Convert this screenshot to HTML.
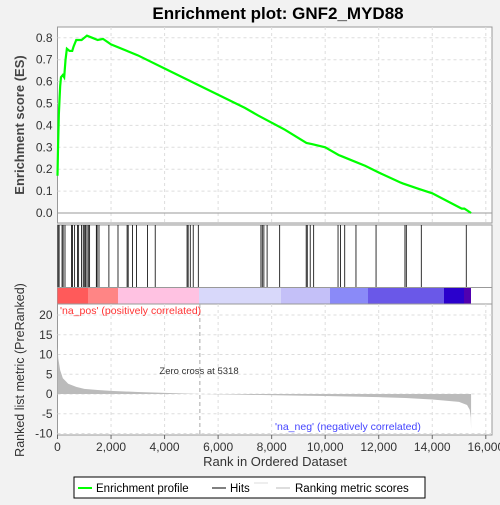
<!DOCTYPE html>
<html><head><meta charset="utf-8"><style>
body{margin:0;background:#f2f2f2;font-family:"Liberation Sans",sans-serif}
svg text{font-family:"Liberation Sans","DejaVu Sans",sans-serif}
</style></head><body>
<svg id="c" width="500" height="500" xmlns="http://www.w3.org/2000/svg">
<text x="278" y="19" text-anchor="middle" font-size="17" font-weight="bold">Enrichment plot: GNF2_MYD88</text>
<g id="topPanel"></g>
<g id="hitsPanel"></g>
<g id="botPanel"></g>
<g>
<rect x="74" y="477" width="351" height="21" fill="#fff" stroke="#000"/>
<line x1="78" y1="488" x2="92" y2="488" stroke="#00ff00" stroke-width="2"/>
<text x="96" y="492" font-size="11.5">Enrichment profile</text>
<line x1="212" y1="488" x2="226" y2="488" stroke="#000"/>
<text x="230" y="492" font-size="11.5">Hits</text>
<line x1="254" y1="483" x2="268" y2="483" stroke="#ddd"/>
<line x1="276" y1="488" x2="290" y2="488" stroke="#bbb"/>
<text x="295" y="492" font-size="11.5">Ranking metric scores</text>
</g>
</svg>
<script>
const esRanks=[0,20,50,80,100,130,200,250,300,350,450,550,600,700,800,900,1000,1100,1300,1500,1700,2000,3000,4000,5000,6000,7000,7500,8500,9300,9500,10000,10500,10600,11000,11500,12000,12800,12900,13500,14000,15100,15200,15450];
const esValues=[0.17,0.3,0.45,0.53,0.58,0.62,0.63,0.62,0.70,0.75,0.74,0.74,0.76,0.79,0.79,0.79,0.80,0.81,0.80,0.79,0.795,0.77,0.72,0.66,0.60,0.54,0.48,0.445,0.38,0.32,0.315,0.30,0.265,0.26,0.24,0.215,0.185,0.14,0.135,0.11,0.09,0.02,0.02,0.0];
const hitRanks=[20,60,170,210,280,520,560,640,750,790,900,960,1000,1050,1100,1150,1200,1450,1480,1550,1920,2260,2600,2640,2800,2950,3360,3650,4840,4880,4960,5070,5260,7600,7650,7710,7830,8300,9290,9330,9440,9570,10480,10570,10730,11150,11900,12980,13030,13590,15270];
const metricRanks=[0,30,100,200,400,700,1000,1500,2000,3000,4000,5318,7000,9000,10000,12000,13000,14000,15000,15300,15400,15440,15450];
const metricValues=[12,9,6,4,2.6,1.8,1.3,1.0,0.8,0.5,0.3,0,-0.2,-0.4,-0.5,-0.8,-1.0,-1.4,-2.0,-2.8,-4.0,-6,-9];
const esTicks=[0,0.1,0.2,0.3,0.4,0.5,0.6,0.7,0.8];
const metricTicks=[20,15,10,5,0,-5,-10];
const xTicks=[0,2000,4000,6000,8000,10000,12000,14000,16000];
const NS='http://www.w3.org/2000/svg';
const L=57.5,R=492;
const X=r=>L+r*(486-57.7)/16000;
const YE=v=>213-v*219;
const YM=v=>394-v*3.95;
function mk(p,t,a){const e=document.createElementNS(NS,t);for(const k in a)e.setAttribute(k,a[k]);p.appendChild(e);return e;}
const topG=document.getElementById('topPanel'),hitsG=document.getElementById('hitsPanel'),botG=document.getElementById('botPanel');
mk(topG,'rect',{x:L,y:27,width:R-L,height:196,fill:'#fff',stroke:'#999'});
xTicks.forEach(t=>{if(t>0)mk(topG,'line',{x1:X(t),x2:X(t),y1:27,y2:223,stroke:'#ddd','stroke-dasharray':'3,3'});});
esTicks.forEach(t=>{
 mk(topG,'line',{x1:L,x2:R,y1:YE(t),y2:YE(t),stroke:t===0?'#999':'#ddd','stroke-dasharray':t===0?'none':'3,3'});
 const tx=mk(topG,'text',{x:L-5,y:YE(t)+4,'text-anchor':'end','font-size':12,fill:'#333'});tx.textContent=t.toFixed(1);
 
 
});
const yl=mk(topG,'text',{x:24,y:125,transform:'rotate(-90 24 125)','text-anchor':'middle','font-size':13,'font-weight':'bold',fill:'#444'});yl.textContent='Enrichment score (ES)';


const pl=mk(topG,'polyline',{points:esRanks.map((r,i)=>X(r)+','+YE(esValues[i])).join(' '),fill:'none',stroke:'#00ff00','stroke-width':2.2});


mk(hitsG,'rect',{x:L,y:225,width:R-L,height:79,fill:'#fff',stroke:'#999'});
hitRanks.forEach(r=>{const l=mk(hitsG,'line',{x1:X(r),x2:X(r),y1:225,y2:287,stroke:'#000','stroke-width':0.8});
 
 });
const bands=[[57.5,88,'#ff5a5a'],[88,118,'#ff8585'],[118,199,'#ffc2e2'],[199,281,'#d8d8fa'],[281,330,'#c4c0f8'],[330,368,'#8a8af8'],[368,444,'#6a58e8'],[444,464,'#2a00cc'],[464,471,'#5000b0']];
bands.forEach(b=>mk(hitsG,'rect',{x:b[0],y:288,width:b[1]-b[0],height:16,fill:b[2]}));
mk(hitsG,'line',{x1:L,x2:R,y1:287.5,y2:287.5,stroke:'#999'});
mk(botG,'rect',{x:L,y:304,width:R-L,height:131,fill:'#fff',stroke:'#999'});
xTicks.forEach(t=>{if(t>0)mk(botG,'line',{x1:X(t),x2:X(t),y1:304,y2:435,stroke:'#ddd','stroke-dasharray':'3,3'});
 mk(botG,'line',{x1:X(t),x2:X(t),y1:435,y2:439,stroke:'#666'});
 const tx=mk(botG,'text',{x:X(t),y:451,'text-anchor':'middle','font-size':12,fill:'#333'});tx.textContent=t.toLocaleString('en-US');
 
 });
metricTicks.forEach(t=>{mk(botG,'line',{x1:L,x2:R,y1:YM(t),y2:YM(t),stroke:'#ddd','stroke-dasharray':'3,3'});
 const tx=mk(botG,'text',{x:L-5,y:YM(t)+4,'text-anchor':'end','font-size':12,fill:'#333'});tx.textContent=t;
 
 });
const area=mk(botG,'polygon',{points:X(0)+','+YM(0)+' '+metricRanks.map((r,i)=>X(r)+','+YM(metricValues[i])).join(' ')+' '+X(15450)+','+YM(0),fill:'#bbb'});


mk(botG,'line',{x1:X(5318),x2:X(5318),y1:304,y2:435,stroke:'#aaa','stroke-dasharray':'4,3'});
const zc=mk(botG,'text',{x:199,y:374,'text-anchor':'middle','font-size':9.5,fill:'#333'});zc.textContent='Zero cross at 5318';
const pp=mk(botG,'text',{x:60,y:314,'font-size':10.5,fill:'#ff3333'});pp.textContent="'na_pos' (positively correlated)";
const nn=mk(botG,'text',{x:275,y:430,'font-size':10.5,fill:'#4444ff'});nn.textContent="'na_neg' (negatively correlated)";
const yl2=mk(botG,'text',{x:24,y:370,transform:'rotate(-90 24 370)','text-anchor':'middle','font-size':12.5,fill:'#333'});yl2.textContent='Ranked list metric (PreRanked)';


const xl=mk(botG,'text',{x:275,y:466,'text-anchor':'middle','font-size':13,fill:'#333'});xl.textContent='Rank in Ordered Dataset';


</script>
</body></html>
